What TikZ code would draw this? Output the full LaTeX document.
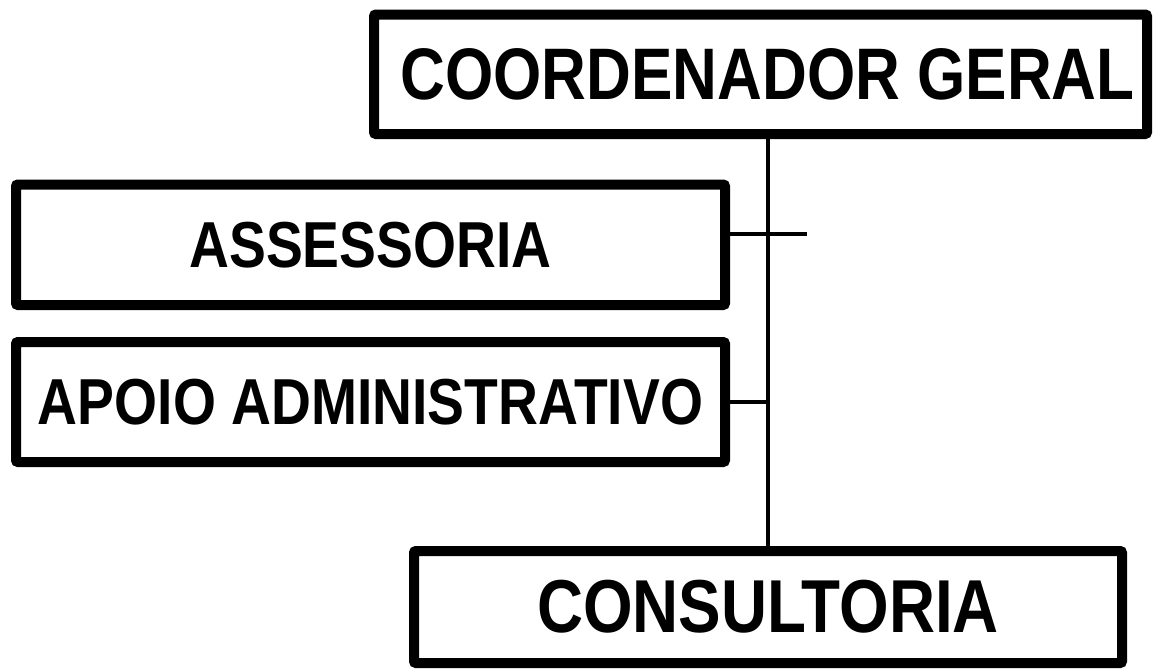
\documentclass[tikz,border=0pt]{standalone}
\usepackage{fontspec}
\setmainfont{Liberation Sans}[FakeStretch=0.85]

\begin{document}
\begin{tikzpicture}[x=0.5pt, y=-0.5pt, box/.style={draw, line width=5pt, rounded corners=1pt, inner sep=0pt}]
				\useasboundingbox (0,0) rectangle (1156,669);
				\node[box, minimum width=386.5pt, minimum height=59.75pt, font=\bfseries\fontsize{36.5}{36.5}\selectfont] (coord) at (760.5,74.25) {\hspace*{7pt}COORDENADOR GERAL};
				\node[box, minimum width=354.5pt, minimum height=60.25pt, font=\bfseries\fontsize{32.5}{32.5}\selectfont] (assess) at (370.5,244.75) {ASSESSORIA};
				\node[box, minimum width=354.5pt, minimum height=60pt, font=\bfseries\fontsize{32.5}{32.5}\selectfont] (apoio) at (370.5,402) {APOIO ADMINISTRATIVO};
				\node[box, minimum width=354pt, minimum height=56pt, font=\bfseries\fontsize{37.5}{37.5}\selectfont] (consult) at (768,607) {CONSULTORIA};
				\coordinate (tick) at (807,234);
				\draw[line width=2pt] (consult.north) -- (consult.north |- coord.south);
				\draw[line width=1.8pt] (tick) -- (tick -| assess.east);
				\draw[line width=1.8pt] (apoio.east) -- (apoio.east -| consult.north);
		    \end{tikzpicture}
\end{document}
